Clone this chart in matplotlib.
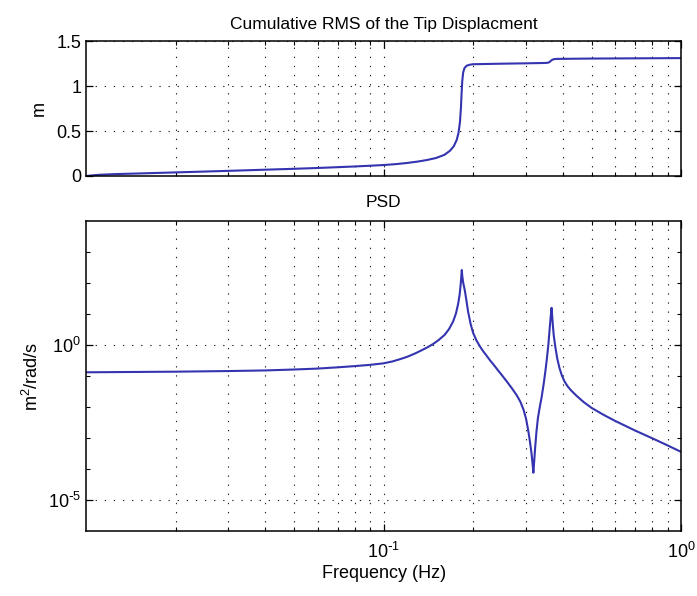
import matplotlib
matplotlib.use("Agg")
import matplotlib.pyplot as plt
from matplotlib.ticker import FixedLocator, NullFormatter, FixedFormatter

plt.rcParams['font.family'] = ['Liberation Sans', 'DejaVu Sans']
plt.rcParams['mathtext.default'] = 'regular'
plt.rcParams['axes.unicode_minus'] = False

# ---- data ----
rms_freq = [0.01, 0.011, 0.0125, 0.015, 0.02, 0.03, 0.04, 0.05, 0.06, 0.07, 0.08,
            0.09, 0.1, 0.11, 0.12, 0.13, 0.14, 0.15, 0.16, 0.167, 0.172, 0.176,
            0.1785, 0.1805, 0.1818, 0.1828, 0.1838, 0.185, 0.187, 0.19, 0.195, 0.2,
            0.25, 0.3, 0.35, 0.358, 0.362, 0.366, 0.372, 0.38, 0.5, 1.0]
rms_vals = [0.0, 0.013, 0.021, 0.028, 0.04, 0.057, 0.07, 0.08, 0.089, 0.098, 0.106,
            0.114, 0.122, 0.132, 0.145, 0.16, 0.178, 0.20, 0.235, 0.28, 0.33, 0.40,
            0.48, 0.60, 0.75, 0.92, 1.06, 1.15, 1.20, 1.225, 1.237, 1.242,
            1.248, 1.252, 1.256, 1.26, 1.27, 1.285, 1.297, 1.301, 1.305, 1.31]

psd_freq = [0.01, 0.02, 0.03, 0.04, 0.05, 0.06, 0.07, 0.08, 0.09, 0.1, 0.107,
            0.1132, 0.12, 0.127, 0.1322, 0.14, 0.1465, 0.153, 0.1604, 0.166, 0.1712,
            0.175, 0.178, 0.18, 0.1815, 0.1825, 0.1831, 0.1838, 0.185, 0.1875, 0.19,
            0.1922, 0.196, 0.1997, 0.205, 0.2105, 0.216, 0.222, 0.228, 0.234, 0.242,
            0.25, 0.259, 0.269, 0.28, 0.288, 0.295, 0.301, 0.306, 0.31, 0.314, 0.317,
            0.3185, 0.32, 0.323, 0.3262, 0.33, 0.335, 0.3393, 0.345, 0.35, 0.354,
            0.358, 0.3615, 0.3645, 0.3667, 0.369, 0.371, 0.373, 0.378, 0.3834, 0.39,
            0.397, 0.405, 0.415, 0.425, 0.445, 0.47, 0.5, 0.55, 0.6, 0.7, 0.808,
            0.9, 1.0]
# log10 of the PSD values (m^2/rad/s), as read on the log axis
psd_log10 = [-0.88, -0.86, -0.84, -0.82, -0.79, -0.76, -0.72, -0.68, -0.64, -0.59, -0.53,
             -0.46, -0.38, -0.28, -0.20, -0.08, 0.03, 0.16, 0.33, 0.52, 0.76,
             1.02, 1.33, 1.62, 1.95, 2.25, 2.42, 2.22, 2.02, 1.75, 1.40,
             1.08, 0.68, 0.40, 0.15, -0.04, -0.20, -0.35, -0.50, -0.63, -0.81,
             -0.98, -1.17, -1.38, -1.62, -1.83, -2.08, -2.38, -2.75, -3.10, -3.50, -3.90,
             -4.12, -3.85, -3.30, -2.80, -2.35, -1.98, -1.70, -1.25, -0.80, -0.40,
             0.05, 0.55, 0.95, 1.20, 0.85, 0.55, 0.30, -0.10, -0.45, -0.75,
             -0.98, -1.17, -1.33, -1.45, -1.64, -1.84, -2.03, -2.26, -2.45, -2.76, -3.03,
             -3.24, -3.45]
psd_vals = [10.0 ** v for v in psd_log10]

top_yticks = [0, 0.5, 1, 1.5]
top_yticklabels = ['0', '0.5', '1', '1.5']
bot_yticks_major = [1e-5, 1e0]
bot_yticklabels = [r'$10^{\text{-}5}$', r'$10^{0}$']
bot_yticks_minor = [1e-4, 1e-3, 1e-2, 1e-1, 1e1, 1e2, 1e3]
x_major = [0.1, 1.0]
x_ticklabels = [r'$10^{\text{-}1}$', r'$10^{0}$']
x_minor = [2e-2, 3e-2, 4e-2, 5e-2, 6e-2, 7e-2, 8e-2, 9e-2,
           2e-1, 3e-1, 4e-1, 5e-1, 6e-1, 7e-1, 8e-1, 9e-1]

line_color = '#3434b0'
grid_kw = dict(color='#222222', linestyle=(0, (1.2, 7)), linewidth=0.8)

fig = plt.figure(figsize=(6.97, 5.96), dpi=100)
ax1 = fig.add_axes([0.1234, 0.7047, 0.854, 0.2265])
ax2 = fig.add_axes([0.1234, 0.1091, 0.854, 0.520])

for ax in (ax1, ax2):
    ax.set_xscale('log')
    ax.set_xlim(0.01, 1.0)
    ax.xaxis.set_major_locator(FixedLocator(x_major))
    ax.xaxis.set_minor_locator(FixedLocator(x_minor))
    ax.xaxis.set_minor_formatter(NullFormatter())
    ax.tick_params(which='both', direction='in', top=True, right=True, labelsize=13)
    ax.tick_params(which='major', length=5, width=0.9)
    ax.tick_params(which='minor', length=3, width=0.8)
    for s in ax.spines.values():
        s.set_linewidth(1.1)
    ax.grid(True, which='both', axis='x', **grid_kw)
    ax.grid(True, which='major', axis='y', **grid_kw)

# top panel
ax1.plot(rms_freq, rms_vals, color=line_color, lw=1.5)
ax1.set_ylim(0, 1.5)
ax1.set_yticks(top_yticks)
ax1.set_yticklabels(top_yticklabels)
ax1.tick_params(axis='x', labelbottom=False)
ax1.set_ylabel('m', fontsize=13, labelpad=6)
ax1.set_title('Cumulative RMS of the Tip Displacment', fontsize=12.5, pad=9)

# bottom panel
ax2.set_yscale('log')
ax2.plot(psd_freq, psd_vals, color=line_color, lw=1.5)
ax2.set_ylim(1e-6, 1e4)
ax2.yaxis.set_major_locator(FixedLocator(bot_yticks_major))
ax2.yaxis.set_minor_locator(FixedLocator(bot_yticks_minor))
ax2.yaxis.set_minor_formatter(NullFormatter())
ax2.yaxis.set_major_formatter(FixedFormatter(bot_yticklabels))
ax2.xaxis.set_major_formatter(FixedFormatter(x_ticklabels))
ax2.tick_params(axis='x', pad=8)
ax2.set_ylabel('m$^2$/rad/s', fontsize=13, labelpad=4)
ax2.set_xlabel('Frequency (Hz)', fontsize=13, labelpad=2)
ax2.set_title('PSD', fontsize=12.5, pad=10)

fig.savefig('out.png', dpi=100)
